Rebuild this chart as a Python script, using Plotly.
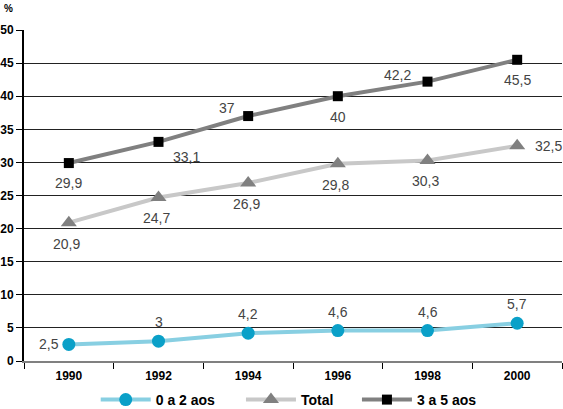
import plotly.graph_objects as go

years = ["1990", "1992", "1994", "1996", "1998", "2000"]
s_0a2 = [2.5, 3, 4.2, 4.6, 4.6, 5.7]
s_total = [20.9, 24.7, 26.9, 29.8, 30.3, 32.5]
s_3a5 = [29.9, 33.1, 37, 40, 42.2, 45.5]
names = ["0 a 2 aos", "Total", "3 a 5 aos"]
y_ticks = [0, 5, 10, 15, 20, 25, 30, 35, 40, 45, 50]

def fmt(v):
    return ("%g" % v).replace(".", ",")

# label placement (style): (xanchor, yanchor, xshift, yshift)
pos_0a2 = [("right", "middle", -8, 0)] + [("center", "bottom", 0, 9)] * 5
pos_total = [("center", "top", -2, -11)] * 5 + [("left", "middle", 16, 0)]
pos_3a5 = [("center", "top", 0, -10), ("left", "top", 12, -5), ("right", "middle", -11, 8),
           ("center", "top", 0, -11), ("right", "middle", -15, 7), ("center", "top", 0, -10)]

FONT = "Liberation Sans, Arial"

fig = go.Figure()
fig.add_trace(go.Scatter(x=years, y=s_0a2, name=names[0], mode="lines+markers", legend="legend",
                         line=dict(color="#88cfe2", width=4),
                         marker=dict(symbol="circle", size=13, color="#0aa0c8")))
fig.add_trace(go.Scatter(x=years, y=s_total, name=names[1], mode="lines+markers", legend="legend2",
                         line=dict(color="#c8c8c8", width=4),
                         marker=dict(symbol="triangle-up", size=14, color="#808080")))
fig.add_trace(go.Scatter(x=years, y=s_3a5, name=names[2], mode="lines+markers", legend="legend3",
                         line=dict(color="#808080", width=4),
                         marker=dict(symbol="square", size=10, color="#000000")))

anns = []
for series, pos in ((s_0a2, pos_0a2), (s_total, pos_total), (s_3a5, pos_3a5)):
    for i, (v, (xa, ya, xs, ys)) in enumerate(zip(series, pos)):
        anns.append(dict(x=i, y=v, xref="x", yref="y", text=fmt(v), showarrow=False,
                         xanchor=xa, yanchor=ya, xshift=xs, yshift=ys,
                         font=dict(size=14, color="#444444", family=FONT)))
anns.append(dict(xref="paper", yref="paper", x=-0.0297, y=1.066, text="<b>%</b>",
                 showarrow=False, xanchor="center", yanchor="middle",
                 font=dict(size=10, color="#000", family=FONT)))

def leg(x):
    return dict(orientation="h", xref="container", yref="container",
                x=x, y=0.022, xanchor="left", yanchor="middle",
                font=dict(size=14, color="#000", family=FONT, weight="bold"),
                itemwidth=50, bgcolor="rgba(0,0,0,0)")

fig.update_layout(
    width=563, height=409,
    margin=dict(l=24, r=1, t=30, b=48, autoexpand=False),
    paper_bgcolor="white", plot_bgcolor="white",
    font=dict(family=FONT, color="#000"),
    showlegend=True,
    legend=leg(0.170), legend2=leg(0.428), legend3=leg(0.634),
    annotations=anns,
)
fig.update_xaxes(type="category", tickson="boundaries", ticks="outside", ticklen=6,
                 tickcolor="#000", tickwidth=1, showgrid=False,
                 showline=True, linecolor="#808080", linewidth=2, ticklabelstandoff=3,
                 tickfont=dict(size=12, color="#000", family=FONT, weight="bold"),
                 range=[-0.5, 5.5])
fig.update_yaxes(range=[0, 50], tickvals=y_ticks, ticks="outside", ticklen=6, tickcolor="#000",
                 showgrid=True, gridcolor="#222222", gridwidth=1, zeroline=False,
                 showline=True, linecolor="#000", linewidth=2,
                 tickfont=dict(size=12, color="#000", family=FONT, weight="bold"))

fig.write_html("out.html", config={"displayModeBar": False},
               post_script="document.body.style.margin='0';document.body.style.overflow='hidden';")
